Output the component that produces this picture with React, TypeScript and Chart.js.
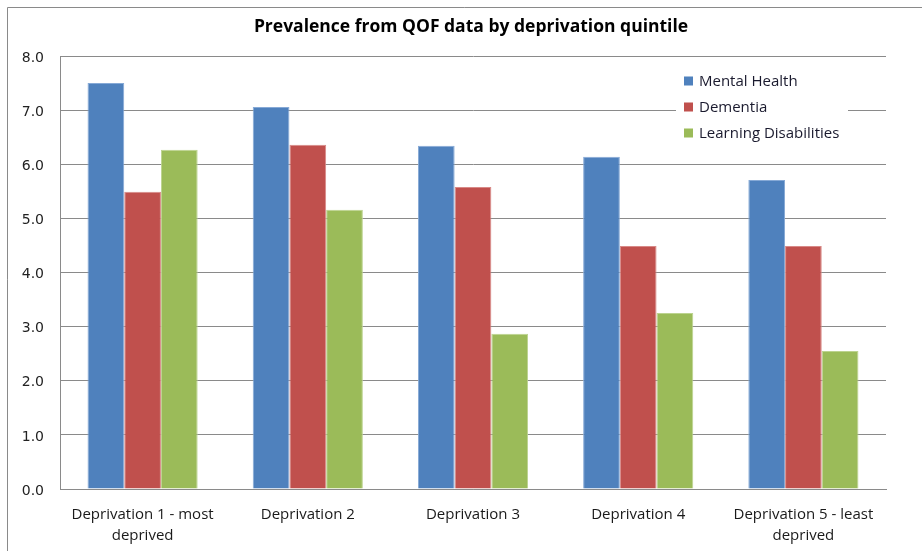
import React, { useEffect, useRef } from "react";
import { Chart, registerables } from "chart.js";

Chart.register(...registerables);

const chartTitle = "Prevalence from QOF data by deprivation quintile";
const categories: (string | string[])[] = [
  ["Deprivation 1 - most", "deprived"],
  "Deprivation 2",
  "Deprivation 3",
  "Deprivation 4",
  ["Deprivation 5 - least", "deprived"],
];
const seriesNames = ["Mental Health", "Dementia", "Learning Disabilities"];
const mentalHealth = [7.5, 7.06, 6.34, 6.14, 5.71];
const dementia = [5.49, 6.36, 5.58, 4.49, 4.49];
const learningDisabilities = [6.27, 5.16, 2.87, 3.25, 2.55];
const yMin = 0;
const yMax = 8;
const yStep = 1;

const colors = ["#4F81BD", "#C0504D", "#9BBB59"];
const edgeColors = ["#86A9D6", "#D88987", "#BCD38F"];

const frameAndTitle = {
  id: "frameAndTitle",
  beforeDraw(chart: any) {
    const { ctx, width, height } = chart;
    ctx.save();
    ctx.fillStyle = "#ffffff";
    ctx.fillRect(0, 0, width, height);
    ctx.strokeStyle = "#8a8a8a";
    ctx.lineWidth = 1;
    ctx.beginPath();
    ctx.moveTo(7.5, height);
    ctx.lineTo(7.5, 7.5);
    ctx.lineTo(width, 7.5);
    ctx.stroke();
    ctx.fillStyle = "#000000";
    ctx.font = "bold 17.5px 'Open Sans', sans-serif";
    ctx.textAlign = "center";
    ctx.textBaseline = "middle";
    ctx.fillText(chartTitle, 471, 27);
    ctx.restore();
  },
};

const insideLegend = {
  id: "insideLegend",
  afterDraw(chart: any) {
    const { ctx } = chart;
    ctx.save();
    ctx.fillStyle = "#ffffff";
    ctx.fillRect(676, 66, 172, 82);
    ctx.font = "15px 'Open Sans', sans-serif";
    ctx.textBaseline = "middle";
    ctx.textAlign = "left";
    chart.data.datasets.forEach((ds: any, i: number) => {
      const y = 81 + i * 26;
      ctx.fillStyle = ds.backgroundColor;
      ctx.fillRect(684, y - 4.5, 9, 9);
      ctx.fillStyle = "#1a1a2e";
      ctx.fillText(ds.label, 699, y + 1);
    });
    ctx.restore();
  },
};

export default function App() {
  const ref = useRef<HTMLCanvasElement | null>(null);
  useEffect(() => {
    if (!ref.current) return;
    const seriesValues = [mentalHealth, dementia, learningDisabilities];
    const chart = new Chart(ref.current, {
      type: "bar",
      data: {
        labels: categories,
        datasets: seriesValues.map((vals, i) => ({
          label: seriesNames[i],
          data: vals,
          backgroundColor: colors[i],
          borderColor: edgeColors[i],
          borderWidth: 1,
          categoryPercentage: 3 / 4.5,
          barPercentage: 1,
        })),
      },
      options: {
        animation: false,
        responsive: false,
        maintainAspectRatio: false,
        devicePixelRatio: 1,
        layout: { padding: { top: 56, right: 36, left: 0, bottom: 0 } },
        plugins: {
          legend: { display: false },
          title: { display: false },
          tooltip: { enabled: false },
        },
        scales: {
          x: {
            grid: { display: false, drawTicks: false },
            border: { display: true, color: "#8a8a8a", width: 1 },
            ticks: {
              color: "#1a1a1a",
              font: { family: "'Open Sans', sans-serif", size: 15, lineHeight: 1.4 },
              padding: 15,
              maxRotation: 0,
              autoSkip: false,
            },
            afterFit(scale: any) {
              scale.height = 62;
            },
          },
          y: {
            min: yMin,
            max: yMax,
            grid: { color: "#8a8a8a", drawTicks: false, lineWidth: 1 },
            border: { display: true, color: "#8a8a8a", width: 1 },
            ticks: {
              stepSize: yStep,
              color: "#222222",
              font: { family: "'DejaVu Sans', sans-serif", size: 14 },
              padding: 16,
              labelOffset: 2,
              callback: (v: any) => Number(v).toFixed(1),
            },
            afterFit(scale: any) {
              scale.width = 60;
            },
          },
        },
      },
      plugins: [frameAndTitle, insideLegend],
    });
    return () => chart.destroy();
  }, []);
  return (
    <div style={{ position: "absolute", left: 0, top: 0, width: 922, height: 551 }}>
      <canvas ref={ref} width={922} height={551} style={{ width: 922, height: 551, display: "block" }} />
    </div>
  );
}
